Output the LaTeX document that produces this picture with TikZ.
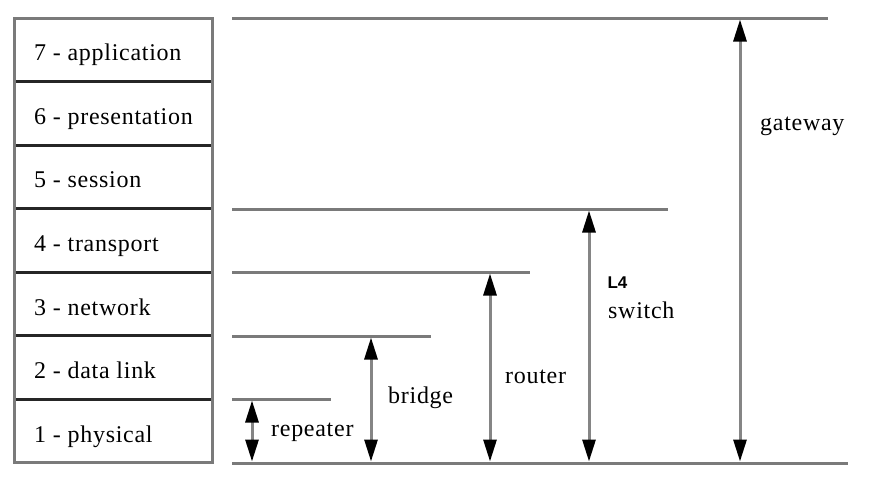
\documentclass[tikz,border=0pt]{standalone}
\usepackage{fontspec}
\setmainfont{Liberation Serif}[LetterSpace=3]
\newfontfamily\lfourfont{Liberation Sans Bold}
\usetikzlibrary{arrows.meta}
\definecolor{linegray}{HTML}{7A7A7A}
\definecolor{shaftgray}{HTML}{858585}
\begin{document}
\begin{tikzpicture}[x=1pt,y=-1pt,
  layerbox/.style={minimum width=198pt,minimum height=63.57pt,inner sep=0pt,outer sep=0pt},
  divider/.style={draw=black!85,line width=3pt},
  frame/.style={draw=linegray,line width=3pt},
  levelline/.style={draw=linegray,line width=3pt},
  txt/.style={inner sep=0pt,anchor=base west,font=\fontsize{24}{28}\selectfont},
  dev/.style={draw=shaftgray,line width=3pt,
    {Triangle[length=22pt,width=13pt,color=black]}-{Triangle[length=22pt,width=13pt,color=black]}}
]
\useasboundingbox (0,0) rectangle (874,479);
\fill[white] (0,0) rectangle (874,479);

% layer boxes
\foreach \i/\n in {7/0,6/1,5/2,4/3,3/4,2/5,1/6}{
  \node[layerbox] (l\i) at (113,{18+63.57*(\n+0.5)}) {};
}
\foreach \i in {7,6,5,4,3,2}{
  \draw[divider] (l\i.south west) -- (l\i.south east);
}
\draw[frame] (l7.north west) rectangle (l1.south east);

% layer texts
\node[txt] (t7) at (34,{18+63.57*0.5+11}) {7 - application};
\node[txt] (t6) at (34,{18+63.57*1.5+11}) {6 - presentation};
\node[txt] (t5) at (34,{18+63.57*2.5+11}) {5 - session};
\node[txt] (t4) at (34,{18+63.57*3.5+11}) {4 - transport};
\node[txt] (t3) at (34,{18+63.57*4.5+11}) {3 - network};
\node[txt] (t2) at (34,{18+63.57*5.5+11}) {2 - data link};
\node[txt] (t1) at (34,{18+63.57*6.5+11}) {1 - physical};

% level lines
\coordinate (gwL) at (232,18);   \coordinate (gwR) at (828,18);
\coordinate (swL) at (232,209);  \coordinate (swR) at (668,209);
\coordinate (rtL) at (232,272);  \coordinate (rtR) at (530,272);
\coordinate (brL) at (232,336);  \coordinate (brR) at (431,336);
\coordinate (rpL) at (232,399);  \coordinate (rpR) at (331,399);
\coordinate (bL) at (232,463);   \coordinate (bR) at (848,463);
\draw[levelline] (gwL) -- (gwR);
\draw[levelline] (swL) -- (swR);
\draw[levelline] (rtL) -- (rtR);
\draw[levelline] (brL) -- (brR);
\draw[levelline] (rpL) -- (rpR);
\draw[levelline] (bL) -- (bR);

% arrows
\coordinate (rpT) at (252,400.5); \coordinate (rpB) at (252,461.5);
\coordinate (brT) at (371,337.5); \coordinate (brB) at (371,461.5);
\coordinate (rtT) at (490,273.5); \coordinate (rtB) at (490,461.5);
\coordinate (swT) at (589,210.5); \coordinate (swB) at (589,461.5);
\coordinate (gwT) at (740,19.5);  \coordinate (gwB) at (740,461.5);
\draw[dev] (rpB) -- (rpT);
\draw[dev] (brB) -- (brT);
\draw[dev] (rtB) -- (rtT);
\draw[dev] (swB) -- (swT);
\draw[dev] (gwB) -- (gwT);

% device labels
\node[txt] (repeater) at (271,436) {repeater};
\node[txt] (bridge) at (388,403) {bridge};
\node[txt] (router) at (505,383) {router};
\node[inner sep=0pt,anchor=base,font={\fontsize{17}{20}\lfourfont\selectfont}] (lfour) at (617.5,288) {L4};
\node[txt] (switch) at (608,318) {switch};
\node[txt] (gateway) at (760,130) {gateway};
\end{tikzpicture}
\end{document}
